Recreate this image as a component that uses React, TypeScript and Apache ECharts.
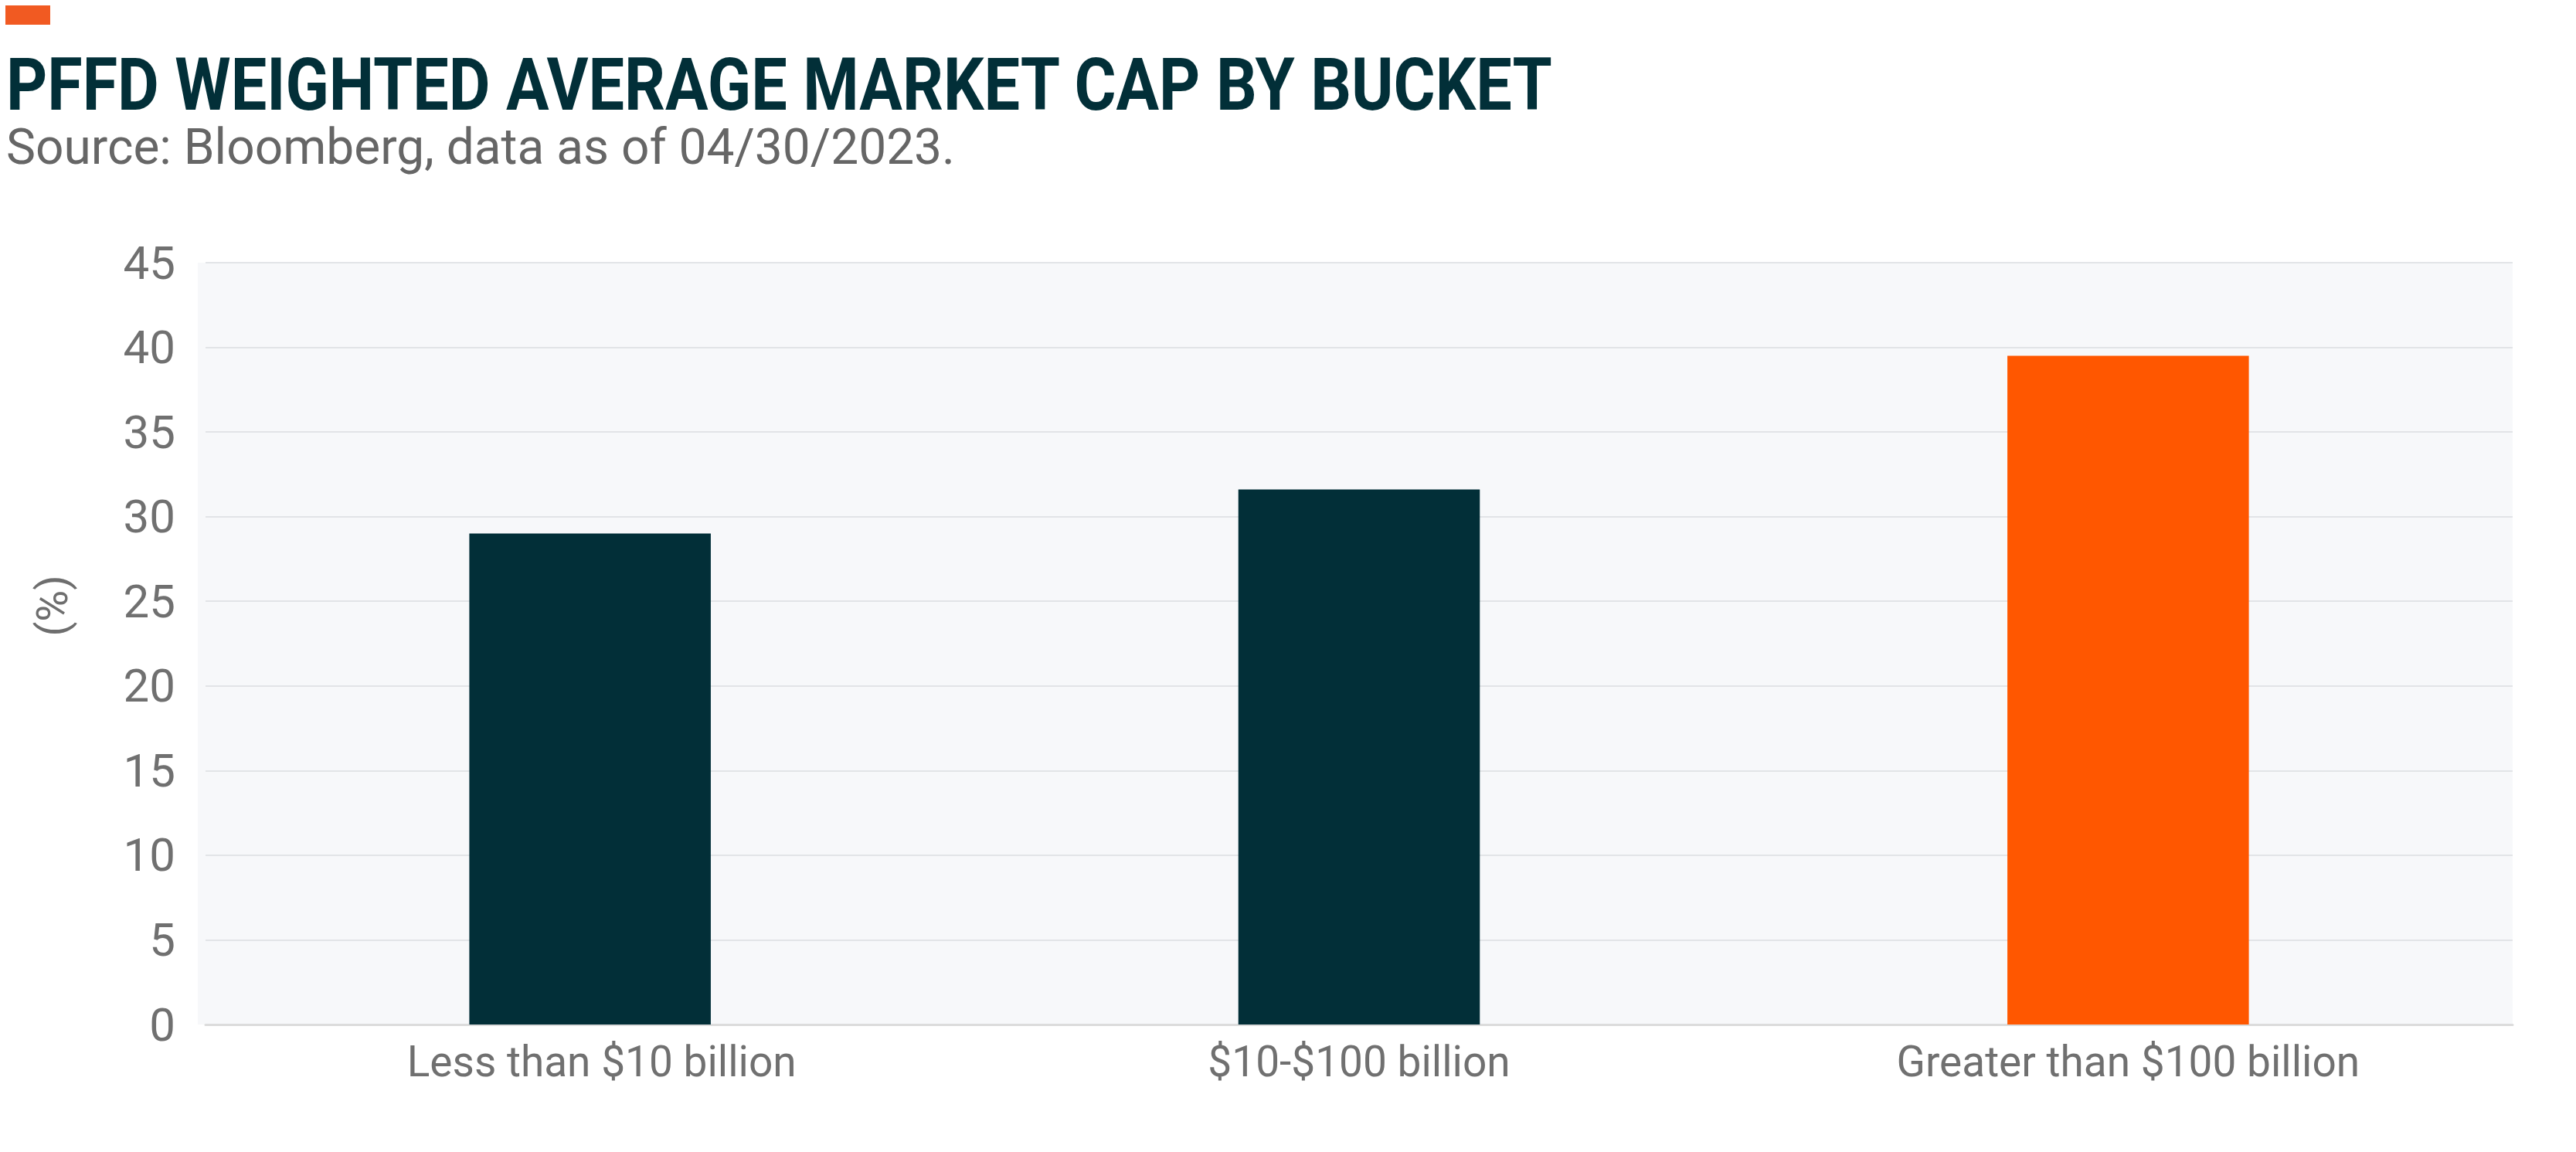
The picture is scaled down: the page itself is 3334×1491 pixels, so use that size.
import React, { useEffect, useRef } from "react";
import * as echarts from "echarts";

const categories = ["Less than $10 billion", "$10-$100 billion", "Greater than $100 billion"];
const values = [29.0, 31.6, 39.5];
const barColors = ["#022F38", "#022F38", "#FF5700"];
const yMin = 0;
const yMax = 45;
const yInterval = 5;

const titleText = "PFFD WEIGHTED AVERAGE MARKET CAP BY BUCKET";
const subtitleText = "Source: Bloomberg, data as of 04/30/2023.";
const yAxisName = "(%)";

export default function App() {
  const ref = useRef<HTMLDivElement>(null);
  useEffect(() => {
    document.body.style.margin = "0";
    if (!ref.current) return;
    const chart = echarts.init(ref.current, undefined, { renderer: "svg" });
    chart.setOption({
      animation: false,
      backgroundColor: "#FFFFFF",
      grid: {
        left: 266,
        right: 82,
        top: 340,
        bottom: 165,
        show: false,
      },
      graphic: [
        {
          type: "rect",
          z: -10,
          shape: { x: 256, y: 340, width: 3252 - 256, height: 1326 - 340 },
          style: { fill: "#F7F8FA" },
        },
        { type: "rect", shape: { x: 7, y: 7, width: 58, height: 25 }, style: { fill: "#F15A22" } },
        {
          type: "text",
          x: 8,
          y: 110,
          scaleX: 0.88,
          style: {
            text: titleText,
            font: "bold 94px Roboto",
            fill: "#022F38",
            textVerticalAlign: "middle",
          },
        },
        {
          type: "text",
          x: 8,
          y: 190,
          style: {
            text: subtitleText,
            font: "64px Roboto",
            fill: "#666666",
            textVerticalAlign: "middle",
          },
        },
        {
          type: "text",
          x: 68,
          y: 784,
          rotation: Math.PI / 2,
          style: {
            text: yAxisName,
            font: "56px Roboto",
            fill: "#6E6E6E",
            textAlign: "center",
            textVerticalAlign: "middle",
          },
        },
      ],
      xAxis: {
        type: "category",
        data: categories.map((c, i) =>
          i === 0 ? { value: c, textStyle: { padding: [0, 0, 0, 30] } } : c
        ),
        axisLine: { show: true, lineStyle: { color: "#DCDCDC", width: 3 } },
        axisTick: { show: false },
        axisLabel: {
          color: "#707070",
          fontFamily: "Roboto",
          fontSize: 55,
          margin: 20,
        },
        splitLine: { show: false },
      },
      yAxis: {
        type: "value",
        min: yMin,
        max: yMax,
        interval: yInterval,
        axisLine: { show: false },
        axisTick: { show: false },
        axisLabel: {
          color: "#707070",
          fontFamily: "Roboto",
          fontSize: 60,
          margin: 39,
          padding: [0, 0, 14, 0],
        },
        splitLine: { show: true, lineStyle: { color: "#E2E4E7", width: 2 } },
      },
      series: [
        {
          type: "bar",
          data: values.map((v, i) => ({ value: v, itemStyle: { color: barColors[i] } })),
          barWidth: "31.4%",
        },
      ],
    });
    return () => chart.dispose();
  }, []);
  return <div ref={ref} style={{ width: 3334, height: 1491 }} />;
}
